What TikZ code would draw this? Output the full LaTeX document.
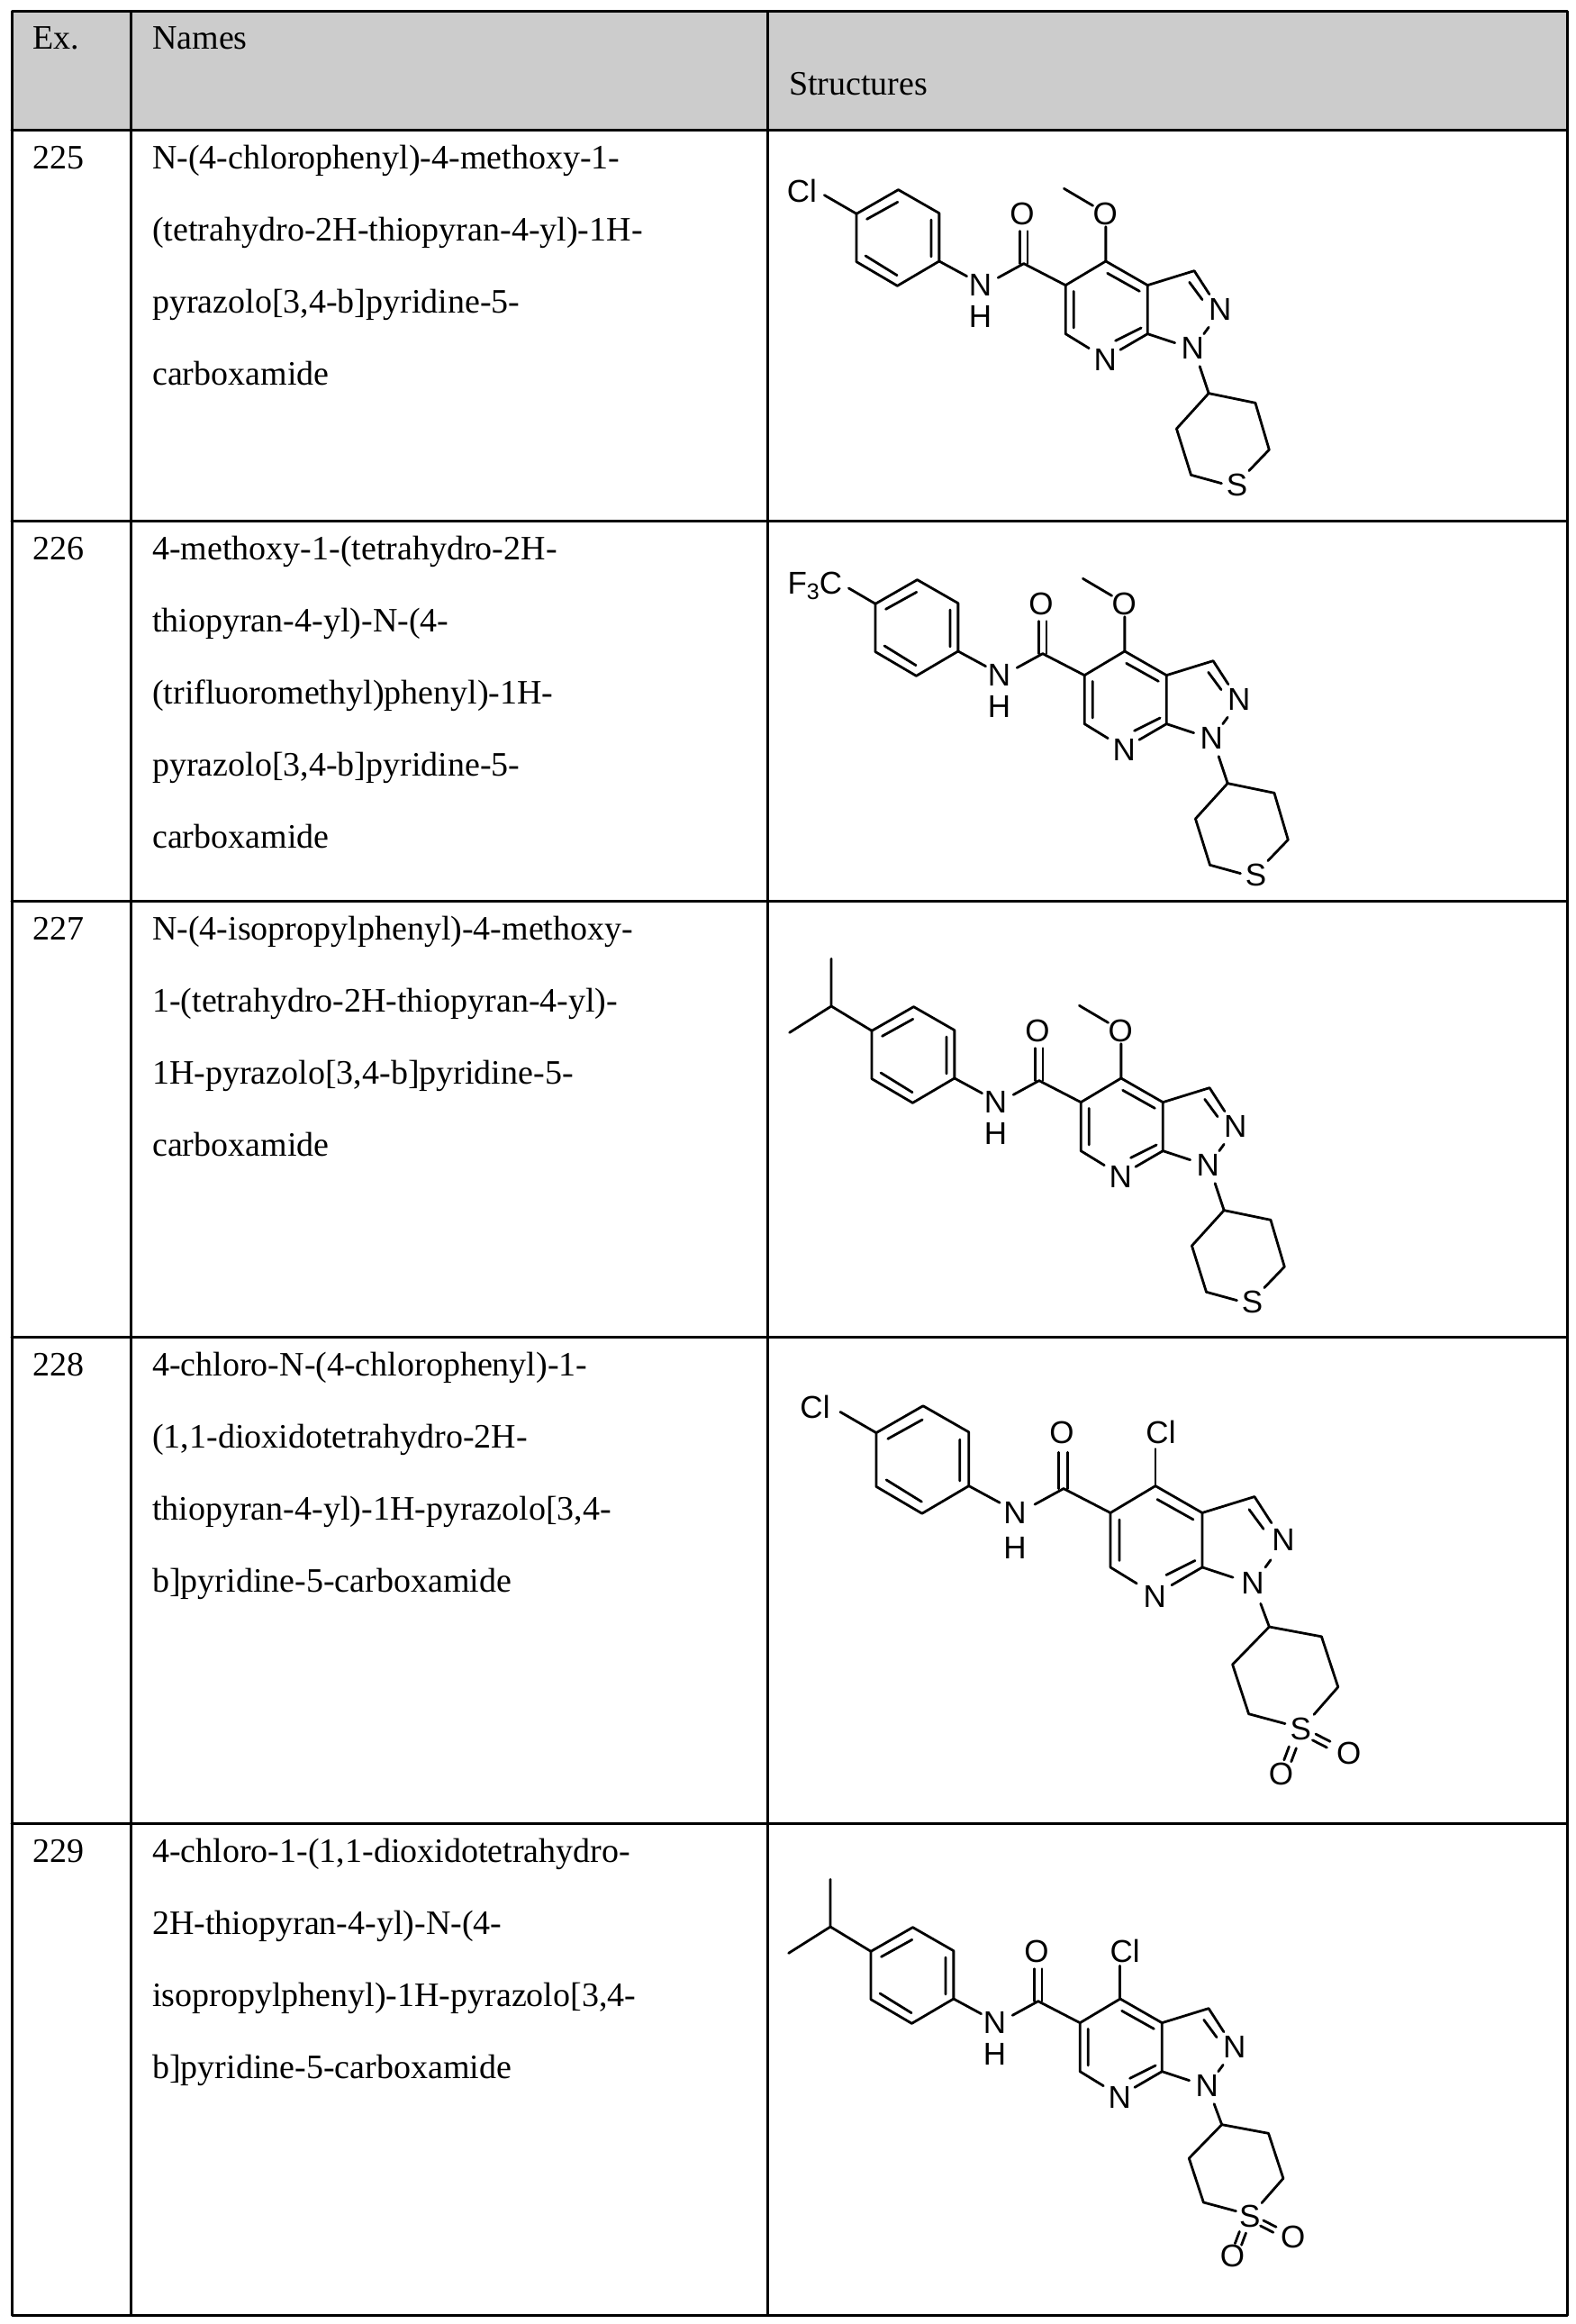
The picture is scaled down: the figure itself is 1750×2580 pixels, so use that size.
\documentclass[tikz,border=0pt]{standalone}
\usepackage{fontspec}
\setmainfont{Liberation Serif}
\setsansfont{Liberation Sans}
\begin{document}
\begin{tikzpicture}[x=1pt,y=-1pt,line cap=round,line join=round,
  tline/.style={line width=3pt},
  bond/.style={line width=2.8pt},
  atom/.style={inner sep=0pt,font=\sffamily\fontsize{35}{40}\selectfont},
  txt/.style={anchor=base west,inner sep=0pt,font=\fontsize{38}{44}\selectfont},
  mol/.style={x=0.35714pt,y=-0.3333pt},
  bigmol/.style={x=0.4pt,y=-0.3733pt}]
\newcommand\molcore{%
 \draw[bond] (255,232)--(385,152)--(512,230)--(512,390)--(382,472)--(255,392)--cycle;
 \draw[bond] (287,250)--(383,193) (487,252)--(487,375) (283,372)--(381,437);
 \draw[bond] (512,390)--(598,440) (695,445)--(775,398);
 \node[atom] (nh) at (640,470) {N}; \node[atom] (h) at (640,575) {H};
 \node[atom] (o) at (770,232) {O};
 \draw[bond] (762,290)--(762,398) (787,290)--(787,398);
 \draw[bond] (775,398)--(905,470)--(1030,390)--(1160,470)--(1305,422)--(1352,500);
 \draw[bond] (1290,460)--(1330,518) (1035,430)--(1135,490);
 \node[atom] (n2) at (1385,550) {N}; \draw[bond] (1350,610)--(1335,632);
 \node[atom] (n1) at (1300,680) {N};
 \draw[bond] (1160,470)--(1160,632)--(1245,662) (1160,632)--(1075,685) (1060,655)--(1140,612);
 \node[atom] (n7) at (1028,718) {N};
 \draw[bond] (905,470)--(905,632)--(978,680) (930,490)--(930,612);}
\newcommand\leftCl{\draw[bond] (155,170)--(255,232); \node[atom] (cl1) at (85,155) {Cl};}
\newcommand\leftCF{\draw[bond] (172,180)--(255,232); \node[atom,anchor=east] (cf) at (152,172) {F\raisebox{-0.3ex}{\fontsize{25}{28}\selectfont3}C};}
\newcommand\leftiPr{\draw[bond] (255,232)--(129,150)--(129,-8) (129,150)--(-1,238);}
\newcommand\cOMe{\draw[bond] (1030,390)--(1030,275) (900,148)--(990,205); \node[atom] (om) at (1028,232) {O};}
\newcommand\cCl{\draw[bond] (1030,390)--(1030,280); \node[atom] (cl2) at (1045,230) {Cl};}
\newcommand\ringS{\draw[bond] (1322,740)--(1350,830);
 \draw[bond] (1350,830)--(1495,862)--(1538,1018)--(1475,1088) (1390,1130)--(1295,1102)--(1250,948)--(1350,830);
 \node[atom] (s) at (1438,1135) {S};}
\newcommand\ringSO{\draw[bond] (1322,740)--(1346,809);
 \draw[bond] (1346,809)--(1491,838)--(1537,988)--(1470,1070) (1390,1097)--(1289,1068)--(1244,921)--(1346,809);
 \node[atom] (s) at (1433,1113) {S}; \node[atom] (oa) at (1379,1247) {O}; \node[atom] (ob) at (1567,1184) {O};
 \draw[bond] (1401,1165)--(1387,1205) (1421,1170)--(1407,1210) (1475,1128)--(1515,1150) (1466,1146)--(1506,1168);}
\useasboundingbox (0,0) rectangle (1750,2580);
\fill[white] (0,0) rectangle (1750,2580);
% table
\fill[black!20] (13,13) rectangle (1740,144);
\draw[tline] (13,13) rectangle (1740,2570);
\draw[tline] (145,13)--(145,2570) (852,13)--(852,2570);
\foreach \yy in {144,578,1000,1484,2024} \draw[tline] (13,\yy)--(1740,\yy);
\node[txt] (hex) at (36,55) {Ex.};
\node[txt] (hna) at (169,55) {Names};
\node[txt] (hst) at (876,105) {Structures};
% rows text
\newcommand\rowtxt[3]{\node[txt] at (36,#1+43) {#2};
 \foreach \l [count=\i from 0] in {#3} \node[txt] at (169,#1+43+80*\i) {\l};}
\rowtxt{144}{225}{{N-(4-chlorophenyl)-4-methoxy-1-},{(tetrahydro-2H-thiopyran-4-yl)-1H-},{pyrazolo[3,4-b]pyridine-5-},{carboxamide}}
\rowtxt{578}{226}{{4-methoxy-1-(tetrahydro-2H-},{thiopyran-4-yl)-N-(4-},{(trifluoromethyl)phenyl)-1H-},{pyrazolo[3,4-b]pyridine-5-},{carboxamide}}
\rowtxt{1000}{227}{{N-(4-isopropylphenyl)-4-methoxy-},{1-(tetrahydro-2H-thiopyran-4-yl)-},{1H-pyrazolo[3,4-b]pyridine-5-},{carboxamide}}
\rowtxt{1484}{228}{{4-chloro-N-(4-chlorophenyl)-1-},{(1,1-dioxidotetrahydro-2H-},{thiopyran-4-yl)-1H-pyrazolo[3,4-},{b]pyridine-5-carboxamide}}
\rowtxt{2024}{229}{{4-chloro-1-(1,1-dioxidotetrahydro-},{2H-thiopyran-4-yl)-N-(4-},{isopropylphenyl)-1H-pyrazolo[3,4-},{b]pyridine-5-carboxamide}}
% molecules
\begin{scope}[shift={(860pt,-160pt)},mol] \molcore\leftCl\cOMe\ringS \end{scope}
\begin{scope}[shift={(881pt,-593pt)},mol] \molcore\leftCF\cOMe\ringS \end{scope}
\begin{scope}[shift={(877pt,-1067pt)},mol] \molcore\leftiPr\cOMe\ringS \end{scope}
\begin{scope}[shift={(871pt,-1504pt)},bigmol] \molcore\leftCl\cCl\ringSO \end{scope}
\begin{scope}[shift={(876pt,-2089pt)},mol] \molcore\leftiPr\cCl\ringSO \end{scope}
\end{tikzpicture}
\end{document}
